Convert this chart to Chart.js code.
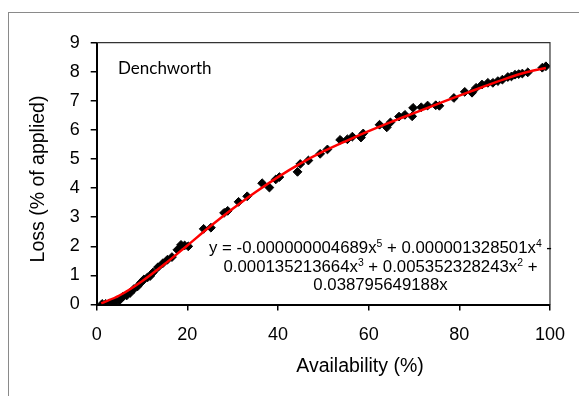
<!DOCTYPE html>
<html>
<head>
<meta charset="utf-8">
<script src="https://cdn.jsdelivr.net/npm/chart.js@4/dist/chart.umd.min.js"></script>
<style>
  html, body { margin: 0; padding: 0; background: #fff; }
  #wrap { position: relative; width: 579px; height: 396px; overflow: hidden; }
  #frame { position: absolute; left: 8px; top: 12px; width: 600px; height: 400px;
           border-top: 1px solid #8a8a8a; border-left: 1px solid #8a8a8a; }
  canvas { position: absolute; left: 0; top: 0; }
  .txt { position: absolute; color: #000; white-space: nowrap; font-family: "Liberation Sans", Arial, sans-serif; }
  #site { left: 118px; top: 57px; font-family: Lato, "Open Sans", sans-serif; font-size: 17px; line-height: 22px; }
  #eq { left: 180px; width: 401px; top: 239px; text-align: center; font-size: 16.8px; line-height: 18.5px; }
  #eq sup { font-size: 0.62em; vertical-align: 0.55em; line-height: 0; }
  #xtitle { left: 260px; width: 200px; top: 354px; text-align: center; font-size: 19.5px; line-height: 22px; }
  #ytitle { left: -63px; width: 200px; top: 168px; text-align: center; font-size: 19.5px; line-height: 22px;
            transform: rotate(-90deg); transform-origin: 100px 11px; }
</style>
</head>
<body>
<div id="wrap">
  <div id="frame"></div>
  <canvas id="c" width="579" height="396"></canvas>
  <div class="txt" id="site">Denchworth</div>
  <div class="txt" id="eq">y = -0.000000004689x<sup>5</sup> + 0.000001328501x<sup>4</sup> -<br>0.000135213664x<sup>3</sup> + 0.005352328243x<sup>2</sup> +<br>0.038795649188x</div>
  <div class="txt" id="xtitle">Availability (%)</div>
  <div class="txt" id="ytitle">Loss (% of applied)</div>
</div>
<script>
// Observed points (Availability %, Loss % of applied)
const availability = [1.2, 2.0, 2.8, 3.5, 4.2, 5.0, 5.8, 6.6, 7.4, 8.2, 9.0, 9.8, 10.4, 11.2, 11.8, 12.4,
  13.5, 14.6, 15.6, 16.6, 17.8, 18.6, 19.4, 20.2, 23.6, 25.2, 28.1, 28.9, 31.3, 33.2, 36.5, 38.1,
  39.5, 40.3, 44.3, 44.9, 46.7, 49.3, 50.9, 53.7, 55.3, 56.4, 58.3, 58.8, 62.4, 64.0, 64.8, 66.7,
  68.0, 69.6, 69.8, 71.6, 73.0, 74.8, 75.6, 78.8, 81.2, 82.8, 83.7, 85.0, 86.3, 87.4, 88.5, 89.5,
  90.7, 91.5, 92.3, 93.1, 93.9, 95.1, 98.3, 99.1];
const loss = [0.02, 0.02, 0.04, 0.06, 0.10, 0.14, 0.27, 0.31, 0.40, 0.53, 0.62, 0.76, 0.86, 0.93, 0.98, 1.10,
  1.28, 1.42, 1.54, 1.63, 1.88, 2.05, 2.03, 2.00, 2.60, 2.64, 3.15, 3.22, 3.53, 3.72, 4.17, 4.02,
  4.30, 4.38, 4.56, 4.83, 4.95, 5.18, 5.33, 5.66, 5.68, 5.77, 5.74, 5.88, 6.18, 6.09, 6.26, 6.46,
  6.52, 6.47, 6.76, 6.78, 6.84, 6.85, 6.83, 7.10, 7.31, 7.28, 7.45, 7.56, 7.62, 7.62, 7.68, 7.73,
  7.82, 7.84, 7.90, 7.92, 7.94, 7.98, 8.14, 8.19];
// Trendline
const trendX = [1, 5, 10, 15, 20, 25, 30, 35, 40, 45, 50, 55, 60, 65, 70, 75, 80, 85, 90, 95, 99.1];
const trendY = [0.04, 0.31, 0.80, 1.39, 2.03, 2.68, 3.29, 3.86, 4.38, 4.85, 5.26, 5.62, 5.96, 6.28,
  6.58, 6.88, 7.18, 7.47, 7.75, 7.99, 8.13];
const xTicks = [0, 20, 40, 60, 80, 100];
const yTicks = [0, 1, 2, 3, 4, 5, 6, 7, 8, 9];

const W = 579, H = 396;
const PLOT = { left: 96.7, top: 42.7, right: 559.3, bottom: 304.5 };

const framePlugin = {
  id: 'plotFrame',
  afterDatasetsDraw(chart) {
    const { ctx, chartArea: a } = chart;
    ctx.save();
    ctx.strokeStyle = '#333';
    ctx.lineWidth = 1.2;
    ctx.beginPath();
    ctx.moveTo(a.left, a.top);
    ctx.lineTo(a.right, a.top);
    ctx.lineTo(a.right, a.bottom);
    ctx.stroke();
    ctx.restore();
  }
};

const tickFont = { family: 'Liberation Sans, Arial, sans-serif', size: 18 };

new Chart(document.getElementById('c'), {
  type: 'scatter',
  data: {
    datasets: [
      {
        label: 'trend',
        type: 'line',
        data: trendX.map((x, i) => ({ x, y: trendY[i] })),
        borderColor: '#ff0000',
        borderWidth: 2.5,
        pointRadius: 0,
        fill: false,
        tension: 0.4,
        cubicInterpolationMode: 'monotone',
        order: 0
      },
      {
        label: 'Loss',
        data: availability.map((x, i) => ({ x, y: loss[i] })),
        pointStyle: 'rectRot',
        pointRadius: 4.4,
        backgroundColor: '#000',
        borderColor: '#000',
        borderWidth: 1,
        showLine: false,
        order: 1
      }
    ]
  },
  options: {
    responsive: false,
    animation: false,
    devicePixelRatio: 1,
    layout: { padding: { left: 0, top: PLOT.top, right: W - PLOT.right, bottom: 0 } },
    plugins: { legend: { display: false }, tooltip: { enabled: false } },
    scales: {
      x: {
        type: 'linear', min: 0, max: 100,
        afterBuildTicks: s => { s.ticks = xTicks.map(v => ({ value: v })); },
        afterFit: s => { s.height = H - PLOT.bottom; },
        border: { display: true, color: '#000', width: 2 },
        grid: { display: true, drawOnChartArea: false, drawTicks: true, tickLength: 6, color: '#000', lineWidth: 1.5 },
        ticks: { color: '#000', font: tickFont, padding: 14, maxRotation: 0 },
        title: { display: false }
      },
      y: {
        type: 'linear', min: 0, max: 9,
        afterBuildTicks: s => { s.ticks = yTicks.map(v => ({ value: v })); },
        afterFit: s => { s.width = PLOT.left; },
        border: { display: true, color: '#000', width: 2 },
        grid: { display: true, drawOnChartArea: false, drawTicks: true, tickLength: 6, color: '#000', lineWidth: 1.5 },
        ticks: { color: '#000', font: tickFont, padding: 11 },
        title: { display: false }
      }
    }
  },
  plugins: [framePlugin]
});
</script>
</body>
</html>
